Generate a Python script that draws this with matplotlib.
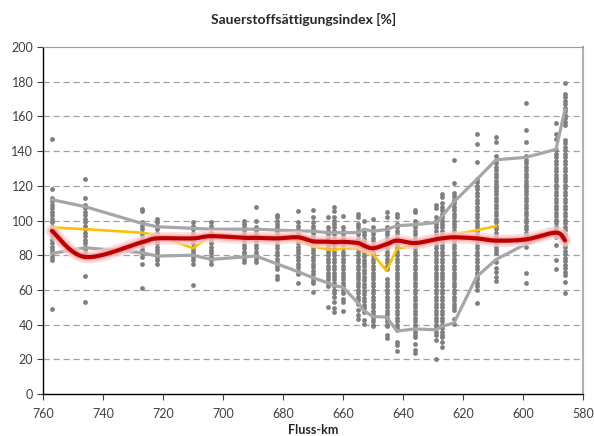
import matplotlib
matplotlib.use("Agg")
import matplotlib.pyplot as plt
import numpy as np

# ---------------- data ----------------
km = [757, 746, 727, 722, 710, 704, 693, 689, 682, 675, 670, 665, 663, 660,
      655, 653, 650, 645.5, 642, 636, 629, 627, 623, 615.5, 609, 599, 589, 586]

samples = [
    [147, 118, 113, 111, 109, 107, 105, 103, 101, 99, 97, 95, 93, 91, 89, 87, 85, 83, 81, 79, 77, 49],
    [124, 113, 109, 107, 105, 103, 101, 99, 97, 95, 93, 91, 89, 87, 85, 83, 81, 79, 68, 53],
    [106.5, 105.5, 99, 97, 95, 93, 91, 89, 87, 85, 83, 81, 79, 75, 61],
    [101, 99, 97, 95, 93, 91, 89, 87, 85, 83, 81, 79, 77, 75],
    [99, 97, 95, 93, 91, 89, 87, 85, 83, 81, 79, 77, 75, 63],
    [99, 97, 95, 93, 91, 89, 87, 85, 83, 81, 79, 77, 75],
    [100, 98, 96, 94, 92, 90, 88, 86, 84, 82, 80, 78, 76],
    [108, 100, 96, 94, 92, 90, 88, 86, 84, 82, 80, 78, 76],
    [103, 102, 100, 98, 96, 94, 92, 90, 88, 86, 84, 82, 80, 78, 76, 74, 72, 68, 66],
    [105.5, 99, 97, 95, 93, 91, 89, 87, 85, 83, 81, 79, 77, 75, 73, 71, 69, 64],
    [106, 102, 99, 97, 95, 93, 91, 89, 87, 85, 83, 81, 79, 77, 75, 73, 71, 69, 67, 65, 64, 59],
    [102, 96, 94, 92, 90, 88, 86, 84, 82, 80, 78, 76, 74, 72, 70, 68, 66, 64, 62, 50],
    [108, 105.5, 102, 100, 98, 96, 94, 92, 90, 88, 86, 84, 82, 80, 78, 76, 74, 72, 70, 68, 66, 64,
     62, 60, 58, 56, 53, 49.5, 47.5],
    [102.5, 96, 94, 92, 90, 88, 86, 84, 82, 80, 78, 76, 74, 72, 70, 68, 66, 64, 62, 60, 58, 55, 53, 48],
    [104, 102, 98, 96, 94, 92, 90, 88, 86, 84, 82, 80, 78, 76, 74, 72, 70, 68, 66, 64, 62, 60, 58,
     56, 54, 52, 48.5, 45.5, 43.5],
    [100, 93.5, 91.5, 89.5, 87.5, 85.5, 83.5, 81.5, 79.5, 77.5, 75.5, 73.5, 71.5, 69.5, 67.5, 65.5,
     63.5, 61.5, 59.5, 57.5, 55.5, 53.5, 51.5, 49.5, 47, 42.5, 40.5],
    [101, 96, 94, 92, 90, 88, 86, 84, 82, 80, 78, 76, 74, 72, 70, 68, 66, 64, 62, 60, 58, 56, 54,
     52, 50, 48, 46, 44, 42, 40, 39],
    [105, 102, 96, 94, 92, 90, 88, 86, 84, 82, 80, 78, 76, 74, 72, 66, 64, 62, 60, 58, 56, 54, 52,
     50, 48, 46, 44, 42, 40, 39, 34, 32],
    [104, 102, 98, 96, 94, 92, 90, 88, 86, 84, 82, 80, 78, 76, 74, 72, 70, 68, 66, 64, 62, 60, 58,
     56, 54, 52, 50, 48, 46, 44, 42, 40, 38, 37, 30, 28, 25],
    [106, 105, 100, 98, 96, 94, 92, 90, 88, 86, 84, 82, 80, 78, 76, 74, 72, 70, 68, 66, 64, 62, 60,
     58, 56, 54, 52, 50, 48, 46, 44, 42, 40, 38, 36, 34, 33, 29, 25.5, 23.5],
    [109, 107, 102, 100, 98, 96, 94, 92, 90, 88, 86, 84, 82, 80, 78, 76, 74, 72, 70, 68, 66, 64, 62,
     60, 58, 56, 54, 52, 50, 48, 46, 44, 42, 40, 38, 36, 34, 31, 20],
    [115, 113.5, 110, 108, 106, 104, 102, 100, 98, 96, 94, 92, 90, 88, 86, 84, 82, 80, 78, 76, 74,
     72, 70, 68, 66, 64, 62, 60, 58, 56, 54, 52, 50, 48, 46, 44, 42, 40, 38, 36, 34, 33, 30, 27],
    [135, 121.5, 116, 114, 112, 110, 108, 106, 104, 102, 100, 98, 96, 94, 92, 90, 88, 86, 84, 82,
     80, 78, 76, 74, 72, 70, 68, 66, 64, 62, 60, 58, 56, 54, 52, 50, 48.5, 43.5, 40.5],
    [150, 144, 134, 124, 122, 120, 118, 116, 114, 112, 110, 108, 106, 104, 102, 100, 98, 96, 94, 92,
     90, 88, 86, 84, 82, 80, 78, 76, 74, 72, 70, 68, 66, 64, 62, 60, 52.5],
    [148, 145.5, 137, 135, 133, 131, 129, 127, 125, 123, 121, 119, 117, 115, 113, 111, 109, 107, 105,
     103, 101, 99, 97, 95, 93, 91, 89, 87, 85, 83, 81, 76, 72.5, 70.5, 67.5, 65],
    [168, 152, 145.5, 137, 135, 133, 131, 129, 127, 125, 123, 121, 119, 117, 115, 113, 111, 109, 107,
     105, 103, 101, 99, 97, 95, 93, 91, 89, 87, 85, 70, 64],
    [156, 150, 147, 140.5, 138.5, 136.5, 134.5, 132.5, 130.5, 128.5, 126.5, 124.5, 122.5, 120.5,
     118.5, 116.5, 114.5, 112.5, 110.5, 108.5, 106.5, 104.5, 102.5, 100.5, 98.5, 96.5, 94.5, 92.5,
     90.5, 86, 77, 72],
    [179, 173, 171, 169, 167, 165, 163, 161, 159, 157, 155, 146.5, 144.5, 142.5, 140.5, 138.5, 136.5,
     134.5, 132.5, 130.5, 128.5, 126.5, 124.5, 122.5, 120.5, 118.5, 116.5, 114.5, 112.5, 110.5,
     108.5, 106.5, 104.5, 102.5, 100.5, 98.5, 96.5, 94.5, 92.5, 90.5, 88.5, 86.5, 84.5, 82.5, 80.5,
     78.5, 76.5, 74.5, 72.5, 70.5, 68.5, 64.5, 58],
]

upper = [112, 108, 98.3, 96.4, 95.5, 95, 95, 95, 94.5, 94, 93.8, 93, 93, 93,
         93, 95, 93.8, 94.8, 97, 97.6, 98.8, 102.5, 110.8, 123.5, 135, 136.4, 141, 164]
lower = [81, 84.3, 81.5, 79.5, 80, 77.6, 79, 79.5, 75, 70.5, 67, 64, 62.5, 61.5,
         52.5, 48, 44.6, 44.4, 36.3, 37.5, 37, 39, 41, 67.5, 77.5, 86.5, 92.6, 88.3]
median = [96, 95, 93, 91.6, 84, 91.6, 90.7, 90.7, 89.7, 88.8, 85, 83.4, 83, 84,
          83.8, 82, 80.5, 71, 83.8, 85.5, 88.7, 90.7, 92, 94.3, 96.8, None, None, None]
smooth = [94, 79, 87.5, 89.7, 89.7, 91, 90, 90, 89.7, 90.3, 88, 87.8, 87.5, 87.7,
          87, 85.5, 84, 86.3, 88.4, 87, 89.2, 89.7, 90.3, 89.7, 88.4, 89.1, 93, 88.5]

xticks = [760, 740, 720, 700, 680, 660, 640, 620, 600, 580]
yticks = [0, 20, 40, 60, 80, 100, 120, 140, 160, 180, 200]
title = "Sauerstoffsättigungsindex [%]"
xlabel = "Fluss-km"

# ---------------- plotting ----------------
plt.rcParams['font.family'] = ['Lato', 'DejaVu Sans']

fig = plt.figure(figsize=(5.94, 4.36), dpi=100)
ax = fig.add_axes([43 / 594, 42 / 436, 540 / 594, 347 / 436])

# scatter points
for k, vals in zip(km, samples):
    ax.scatter([k] * len(vals), vals, s=12, color='#7f7f7f', linewidths=0, zorder=3)

# envelope lines
ax.plot(km, upper, color='#a6a6a6', lw=2.3, zorder=4, solid_capstyle='round')
ax.plot(km, lower, color='#a6a6a6', lw=2.3, zorder=4, solid_capstyle='round')

# median line
mk = [k for k, m in zip(km, median) if m is not None]
mv = [m for m in median if m is not None]
ax.plot(mk, mv, color='#ffc000', lw=1.9, zorder=5)


# smoothed line (Excel-like Bezier smoothing)
def smooth_curve(xs, ys, n=30):
    P = np.column_stack([xs, ys]).astype(float)
    out = []
    for i in range(len(P) - 1):
        p0 = P[i - 1] if i > 0 else P[i]
        p1 = P[i]
        p2 = P[i + 1]
        p3 = P[i + 2] if i + 2 < len(P) else P[i + 1]
        c1 = p1 + (p2 - p0) / 6.0
        c2 = p2 - (p3 - p1) / 6.0
        t = np.linspace(0, 1, n)[:, None]
        seg = ((1 - t) ** 3) * p1 + 3 * ((1 - t) ** 2) * t * c1 + 3 * (1 - t) * t ** 2 * c2 + t ** 3 * p2
        out.append(seg if i == 0 else seg[1:])
    out = np.vstack(out)
    return out[:, 0], out[:, 1]


sx, sy = smooth_curve(km, smooth)
ax.plot(sx, sy, color='#fbd0d0', lw=9, alpha=0.7, zorder=6, solid_capstyle='round')
ax.plot(sx, sy, color='#f29a9a', lw=5.5, alpha=0.55, zorder=6, solid_capstyle='round')
ax.plot(sx, sy, color='#c00000', lw=3.0, zorder=7, solid_capstyle='round')

# axes
ax.set_xlim(760, 580)
ax.set_ylim(0, 200)
ax.set_xticks(xticks)
ax.set_yticks(yticks)
ax.set_xticklabels([str(v) for v in xticks])
ax.set_yticklabels([str(v) for v in yticks])
ax.tick_params(axis='both', direction='out', length=4, width=0.8, colors='#404040',
               labelsize=9, labelcolor='#404040', pad=3)
ax.tick_params(axis='x', pad=6)

for yv in yticks[1:-1]:
    ax.axhline(yv, color='#a0a0a0', lw=0.9, ls=(0, (5, 3)), zorder=1)

ax.spines['left'].set_color('#000000')
ax.spines['bottom'].set_color('#000000')
ax.spines['left'].set_linewidth(1.0)
ax.spines['bottom'].set_linewidth(1.0)
ax.spines['top'].set_color('#9a9a9a')
ax.spines['right'].set_color('#b0b0b0')
ax.spines['right'].set_linewidth(1.5)

fig.text(304 / 594, 1 - 19 / 436, title, ha='center', va='center',
         fontsize=10, fontweight='bold', color='#262626')
fig.text(313 / 594, 1 - 430 / 436, xlabel, ha='center', va='center',
         fontsize=9, fontweight='bold', color='#262626')

fig.savefig('out.png', dpi=100)
